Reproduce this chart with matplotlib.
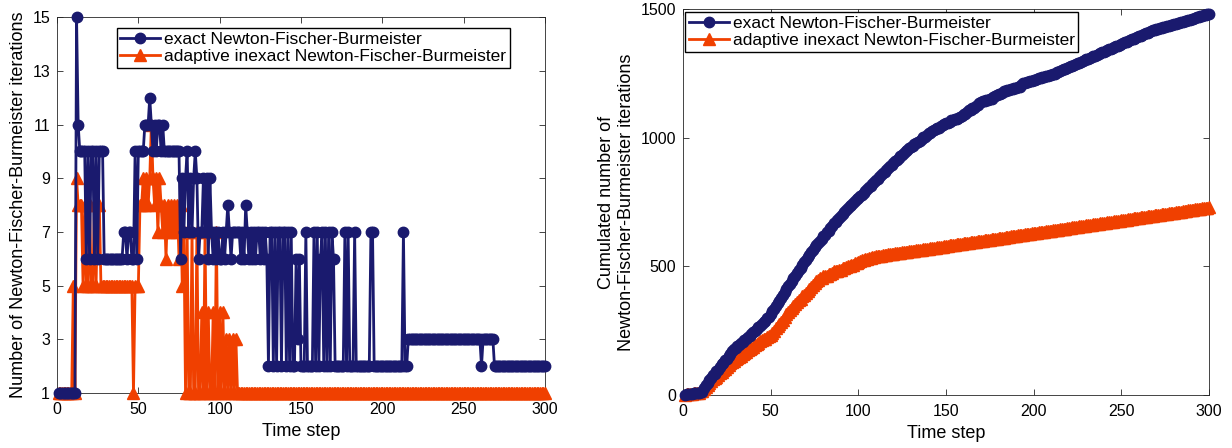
import numpy as np
import matplotlib
matplotlib.use("Agg")
import matplotlib.pyplot as plt

plt.rcParams['font.family'] = ['Liberation Sans', 'DejaVu Sans']

# iterations per time step (steps 1..300)
exact_iters = [
    1, 1, 1, 1, 1, 1, 1, 1, 1, 1,
    1, 15, 11, 10, 10, 10, 10, 6, 10, 6,
    10, 10, 6, 10, 6, 10, 10, 10, 6, 6,
    6, 6, 6, 6, 6, 6, 6, 6, 6, 6,
    7, 7, 6, 7, 7, 6, 6, 10, 6, 10,
    10, 10, 10, 11, 11, 11, 12, 11, 10, 11,
    10, 11, 11, 10, 11, 10, 10, 10, 10, 10,
    10, 10, 10, 10, 10, 6, 9, 7, 9, 10,
    7, 9, 7, 9, 10, 9, 6, 7, 7, 9,
    7, 9, 6, 9, 7, 6, 7, 6, 7, 6,
    6, 7, 6, 7, 8, 7, 6, 7, 7, 7,
    7, 7, 6, 7, 6, 8, 7, 6, 7, 6,
    7, 6, 7, 7, 6, 7, 6, 7, 6, 2,
    7, 7, 2, 7, 2, 7, 7, 2, 7, 7,
    2, 7, 2, 7, 2, 2, 6, 3, 6, 2,
    2, 2, 7, 2, 2, 2, 2, 7, 2, 7,
    2, 6, 7, 2, 7, 2, 7, 2, 7, 6,
    2, 2, 2, 2, 2, 2, 7, 2, 7, 2,
    2, 2, 7, 2, 2, 2, 2, 2, 2, 2,
    2, 2, 7, 7, 2, 2, 2, 2, 2, 2,
    2, 2, 2, 2, 2, 2, 2, 2, 2, 2,
    2, 2, 7, 2, 2, 3, 3, 3, 3, 3,
    3, 3, 3, 3, 3, 3, 3, 3, 3, 3,
    3, 3, 3, 3, 3, 3, 3, 3, 3, 3,
    3, 3, 3, 3, 3, 3, 3, 3, 3, 3,
    3, 3, 3, 3, 3, 3, 3, 3, 3, 3,
    2, 3, 3, 3, 3, 3, 3, 3, 2, 2,
    2, 2, 2, 2, 2, 2, 2, 2, 2, 2,
    2, 2, 2, 2, 2, 2, 2, 2, 2, 2,
    2, 2, 2, 2, 2, 2, 2, 2, 2, 2,
]

inexact_iters = [
    1, 1, 1, 1, 1, 1, 1, 1, 1, 5,
    1, 9, 8, 8, 8, 5, 8, 5, 5, 8,
    5, 5, 8, 5, 8, 8, 5, 5, 5, 5,
    5, 5, 5, 5, 5, 5, 5, 5, 5, 5,
    5, 5, 5, 5, 5, 5, 1, 5, 5, 5,
    8, 8, 9, 8, 9, 8, 9, 11, 9, 8,
    9, 7, 9, 8, 7, 8, 6, 8, 7, 8,
    7, 8, 7, 8, 6, 8, 5, 7, 1, 7,
    1, 1, 7, 1, 1, 7, 1, 1, 4, 1,
    7, 1, 4, 1, 1, 4, 1, 7, 1, 4,
    1, 4, 1, 3, 1, 3, 1, 3, 1, 3,
    1, 1, 1, 1, 1, 1, 1, 1, 1, 1,
    1, 1, 1, 1, 1, 1, 1, 1, 1, 1,
    1, 1, 1, 1, 1, 1, 1, 1, 1, 1,
    1, 1, 1, 1, 1, 1, 1, 1, 1, 1,
    1, 1, 1, 1, 1, 1, 1, 1, 1, 1,
    1, 1, 1, 1, 1, 1, 1, 1, 1, 1,
    1, 1, 1, 1, 1, 1, 1, 1, 1, 1,
    1, 1, 1, 1, 1, 1, 1, 1, 1, 1,
    1, 1, 1, 1, 1, 1, 1, 1, 1, 1,
    1, 1, 1, 1, 1, 1, 1, 1, 1, 1,
    1, 1, 1, 1, 1, 1, 1, 1, 1, 1,
    1, 1, 1, 1, 1, 1, 1, 1, 1, 1,
    1, 1, 1, 1, 1, 1, 1, 1, 1, 1,
    1, 1, 1, 1, 1, 1, 1, 1, 1, 1,
    1, 1, 1, 1, 1, 1, 1, 1, 1, 1,
    1, 1, 1, 1, 1, 1, 1, 1, 1, 1,
    1, 1, 1, 1, 1, 1, 1, 1, 1, 1,
    1, 1, 1, 1, 1, 1, 1, 1, 1, 1,
    1, 1, 1, 1, 1, 1, 1, 1, 1, 1,
]

labels = ['exact Newton-Fischer-Burmeister',
          'adaptive inexact Newton-Fischer-Burmeister']
blue = '#1a1a6e'
orange = '#f04000'
axcol = '#262626'

steps = np.arange(1, len(exact_iters) + 1)

fig = plt.figure(figsize=(12.32, 4.48), dpi=100)
ax1 = fig.add_axes([0.0463, 0.1228, 0.396, 0.839])
ax2 = fig.add_axes([0.5544, 0.1183, 0.427, 0.8616])

leg_kw = dict(loc='upper left', borderaxespad=0, fontsize=12.5, fancybox=False,
              edgecolor='black', framealpha=1, handlelength=2.3, borderpad=0.2,
              labelspacing=0.15, handletextpad=0.25)


def draw(ax, y_exact, y_inexact):
    # orange first so the blue markers sit on top, legend keeps exact first
    h2, = ax.plot(steps, y_inexact, color=orange, lw=2, marker='^', ms=8,
                  clip_on=False, zorder=3)
    h1, = ax.plot(steps, y_exact, color=blue, lw=2, marker='o', ms=7.5,
                  clip_on=False, zorder=4)
    return [h1, h2]


# left: iterations per step
hs = draw(ax1, exact_iters, inexact_iters)
ax1.set_xlim(0, 300)
ax1.set_ylim(1, 15)
ax1.set_yticks(range(1, 16, 2))
ax1.set_xticks(range(0, 301, 50))
ax1.set_xlabel('Time step', fontsize=13, labelpad=4)
ax1.set_ylabel('Number of Newton-Fischer-Burmeister iterations', fontsize=13, labelpad=4)
ax1.legend(hs, labels, bbox_to_anchor=(0.122, 0.971), **leg_kw)

# right: cumulated iterations
hs = draw(ax2, np.cumsum(exact_iters), np.cumsum(inexact_iters))
ax2.set_xlim(0, 300)
ax2.set_ylim(0, 1500)
ax2.set_yticks([0, 500, 1000, 1500])
ax2.set_xticks(range(0, 301, 50))
ax2.set_xlabel('Time step', fontsize=13, labelpad=4)
ax2.set_ylabel('Cumulated number of\nNewton-Fischer-Burmeister iterations', fontsize=13, labelpad=4)
ax2.legend(hs, labels, bbox_to_anchor=(0.004, 0.992), **leg_kw)

for ax in (ax1, ax2):
    ax.tick_params(direction='in', top=True, right=True, labelsize=11.5,
                   colors=axcol, length=4, width=0.6)
    ax.tick_params(axis='x', pad=6.5)
    ax.tick_params(axis='y', pad=5)
    for s in ax.spines.values():
        s.set_color(axcol)
        s.set_linewidth(0.6)
    for m in ax.get_xticklabels() + ax.get_yticklabels():
        m.set_color('black')

fig.savefig('out.png', dpi=100)
